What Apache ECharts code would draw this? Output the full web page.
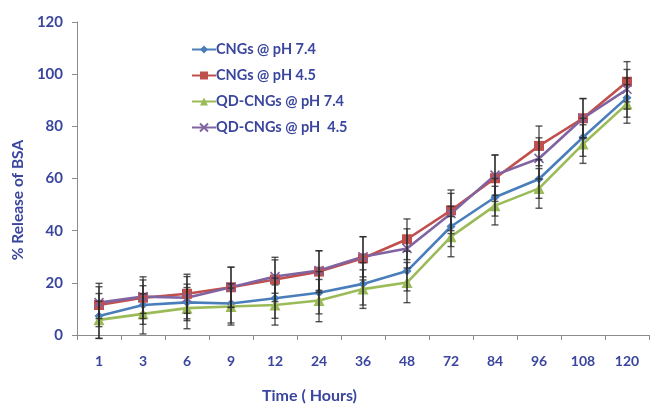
<!DOCTYPE html>
<html>
<head>
<meta charset="utf-8">
<script src="https://cdn.jsdelivr.net/npm/echarts@6/dist/echarts.min.js"></script>
<style>
  html, body { margin: 0; padding: 0; background: #ffffff; }
  #chart { width: 650px; height: 411px; }
</style>
</head>
<body>
<div id="chart"></div>
<script>
// Sampling times (hours)
const hours = ['1', '3', '6', '9', '12', '24', '36', '48', '72', '84', '96', '108', '120'];

// Cumulative % release of BSA and standard deviations
const cngs74 = [7.3, 11.5, 12.5, 12.1, 14.1, 16.2, 19.6, 24.5, 41.6, 52.8, 59.8, 75.8, 91.0];
const cngs74Err = [8.6, 7.4, 7.0, 7.5, 7.7, 8.1, 8.1, 7.6, 7.7, 7.2, 7.4, 7.3, 7.5];

const cngs45 = [11.5, 14.3, 15.8, 18.3, 21.3, 24.3, 29.4, 36.7, 47.8, 60.1, 72.5, 83.1, 97.1];
const cngs45Err = [8.3, 8.0, 7.5, 7.7, 8.5, 8.0, 8.3, 7.8, 7.8, 8.9, 7.6, 7.6, 7.7];

const qd74 = [5.8, 8.1, 10.3, 10.9, 11.5, 13.2, 17.6, 20.1, 37.7, 49.6, 56.2, 73.2, 88.6];
const qd74Err = [7.1, 7.7, 7.9, 7.1, 7.7, 8.1, 7.4, 7.7, 7.7, 7.4, 7.6, 7.4, 7.4];

const qd45 = [12.4, 14.7, 14.3, 18.3, 22.4, 24.7, 30.0, 33.2, 46.6, 61.3, 67.7, 83.1, 94.2];
const qd45Err = [6.1, 6.4, 8.1, 7.7, 6.4, 7.6, 7.7, 7.5, 7.7, 7.7, 7.9, 7.5, 7.6];

const yTicks = [0, 20, 40, 60, 80, 100, 120];

const textBlue = '#3a469e';
const font = 'Lato, "Open Sans", sans-serif';

function errorData(vals, errs) {
  return vals.map((v, i) => [i, v - errs[i], v + errs[i]]);
}

function errorSeries(vals, errs) {
  return {
    type: 'custom',
    silent: true,
    z: 4,
    data: errorData(vals, errs),
    renderItem: function (params, api) {
      const idx = api.value(0);
      const lo = api.coord([idx, api.value(1)]);
      const hi = api.coord([idx, api.value(2)]);
      const w = 3.5;
      const style = { stroke: '#2b2b2b', lineWidth: 1.4, opacity: 0.8 };
      return {
        type: 'group',
        children: [
          { type: 'line', shape: { x1: lo[0], y1: lo[1], x2: hi[0], y2: hi[1] }, style: style },
          { type: 'line', shape: { x1: lo[0] - w, y1: lo[1], x2: lo[0] + w, y2: lo[1] }, style: style },
          { type: 'line', shape: { x1: hi[0] - w, y1: hi[1], x2: hi[0] + w, y2: hi[1] }, style: style }
        ]
      };
    }
  };
}

function lineSeries(name, vals, color, symbol, size, extraItem) {
  return {
    name: name,
    type: 'line',
    data: vals,
    symbol: symbol,
    symbolSize: size,
    showAllSymbol: true,
    z: 3,
    lineStyle: { color: color, width: 2.6 },
    itemStyle: Object.assign({ color: color }, extraItem || {})
  };
}

const chart = echarts.init(document.getElementById('chart'), null, { renderer: 'canvas' });

chart.setOption({
  animation: false,
  grid: { left: 77, right: 1, top: 22, bottom: 76, containLabel: false },
  legend: {
    data: ['CNGs @ pH 7.4', 'CNGs @ pH 4.5', 'QD-CNGs @ pH 7.4', 'QD-CNGs @ pH  4.5'],
    orient: 'vertical',
    left: 186,
    top: 37,
    itemGap: 11,
    itemWidth: 24,
    itemHeight: 10,
    textStyle: { color: textBlue, fontFamily: font, fontWeight: 'bold', fontSize: 14.5, padding: [0, 0, 0, -5] }
  },
  xAxis: {
    type: 'category',
    data: hours,
    boundaryGap: true,
    axisLine: { lineStyle: { color: '#8c8c8c', width: 1 } },
    axisTick: { show: true, length: 5, inside: false, lineStyle: { color: '#8c8c8c' } },
    axisLabel: { color: textBlue, fontFamily: font, fontWeight: 'bold', fontSize: 14, margin: 19 },
    splitLine: { show: false }
  },
  yAxis: {
    type: 'value',
    min: yTicks[0],
    max: yTicks[yTicks.length - 1],
    interval: 20,
    axisLine: { show: true, lineStyle: { color: '#8c8c8c', width: 1 } },
    axisTick: { show: true, length: 5, lineStyle: { color: '#8c8c8c' } },
    axisLabel: { color: textBlue, fontFamily: font, fontWeight: 'bold', fontSize: 15, margin: 14 },
    splitLine: { show: false }
  },
  graphic: [
    {
      type: 'text',
      left: 262,
      top: 388,
      style: { text: 'Time ( Hours)', fill: textBlue, font: 'bold 16px ' + font }
    },
    {
      type: 'text',
      x: 18,
      y: 200,
      rotation: Math.PI / 2,
      style: {
        text: '% Release of BSA',
        fill: textBlue,
        font: 'bold 15.5px ' + font,
        align: 'center',
        verticalAlign: 'middle'
      }
    }
  ],
  series: [
    lineSeries('CNGs @ pH 7.4', cngs74, '#4a7ebb', 'diamond', 9),
    lineSeries('CNGs @ pH 4.5', cngs45, '#c0504d', 'rect', 10),
    lineSeries('QD-CNGs @ pH 7.4', qd74, '#9bbb59', 'triangle', 11),
    lineSeries('QD-CNGs @ pH  4.5', qd45, '#8064a2', 'path://M0,0L10,10M10,0L0,10', 9,
      { borderColor: '#8064a2', borderWidth: 1.6 }),
    errorSeries(cngs74, cngs74Err),
    errorSeries(cngs45, cngs45Err),
    errorSeries(qd74, qd74Err),
    errorSeries(qd45, qd45Err)
  ]
});
</script>
</body>
</html>
